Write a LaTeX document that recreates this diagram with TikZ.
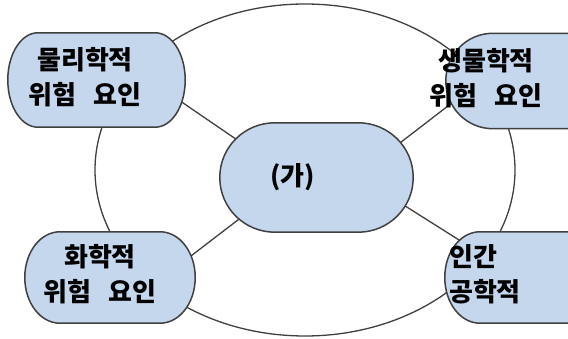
\documentclass[tikz,border=0pt]{standalone}
\usepackage{fontspec}
\newfontfamily\kr{Noto Sans CJK KR}
\usetikzlibrary{calc,backgrounds}
\definecolor{blobfill}{RGB}{197,215,237}
\definecolor{inkline}{RGB}{64,64,64}
\newcommand\offtext[3]{\raisebox{#2}{\makebox[0pt]{\hspace*{#1}#3\hspace*{-#1}}}}
\newcommand\blobpath[3]{%
  \path[blobshape] ([xshift=#2]#1.north west) -- ([xshift=-#2]#1.north east)
    arc[start angle=90,end angle=0,x radius=#2,y radius=#3]
    -- ([yshift=#3]#1.south east)
    arc[start angle=0,end angle=-90,x radius=#2,y radius=#3]
    -- ([xshift=#2]#1.south west)
    arc[start angle=270,end angle=180,x radius=#2,y radius=#3]
    -- ([yshift=-#3]#1.north west)
    arc[start angle=180,end angle=90,x radius=#2,y radius=#3]
    -- cycle;}
\begin{document}
\begin{tikzpicture}[x=1pt,y=1pt,
  blobtext/.style={inner sep=0pt, text=black, font={\kr\bfseries\fontsize{26pt}{35pt}\selectfont}},
  blobshape/.style={fill=blobfill, draw=inkline, line width=1.5pt},
  wire/.style={draw=inkline, line width=1.3pt},
  ring/.style={draw=inkline, line width=1.3pt}]
\useasboundingbox (0,0) rectangle (568,339);
\node[blobtext, minimum width=193pt, minimum height=109pt] (ga) at (316.5,161.5)
  {\offtext{-24pt}{-4.5pt}{(가)}};
\node[blobtext, minimum width=177pt, minimum height=94pt] (tl) at (96.5,259)
  {\offtext{-11.5pt}{-3.5pt}{\begin{tabular}{@{}c@{}}물리학적\\위험 \kern.45em요인\end{tabular}}};
\node[blobtext, minimum width=194pt, minimum height=95pt] (tr) at (543,258)
  {\offtext{-57pt}{-1pt}{\begin{tabular}{@{}c@{}}생물학적\\위험 \kern.45em요인\end{tabular}}};
\node[blobtext, minimum width=170pt, minimum height=91pt] (bl) at (110,61.5)
  {\offtext{-10pt}{-0.5pt}{\begin{tabular}{@{}c@{}}화학적\\위험 \kern.45em요인\end{tabular}}};
\node[blobtext, minimum width=194pt, minimum height=91pt] (br) at (542,61.5)
  {\offtext{-57pt}{0pt}{\begin{tabular}{@{}l@{}}인간\\공학적\end{tabular}}};
\begin{scope}[on background layer]
  \fill[white] (0,0) rectangle (568,339);
  \draw[ring] (305,169) ellipse [x radius=210pt, y radius=166pt];
  \draw[wire] ($(ga)+(-70.5,31.5)$) -- ($(tl)+(81.5,-19.5)$);
  \draw[wire] ($(ga)+(79.5,31.5)$) -- ($(tr)+(-86,-18)$);
  \draw[wire] ($(ga)+(-69.5,-35.5)$) -- ($(bl)+(77,18.5)$);
  \draw[wire] ($(ga)+(85.5,-26.5)$) -- ($(br)+(-75,32.5)$);
  \blobpath{ga}{55pt}{54.5pt}
  \blobpath{tl}{30pt}{47pt}
  \blobpath{tr}{47pt}{47.5pt}
  \blobpath{bl}{35pt}{45.5pt}
  \blobpath{br}{35pt}{45.5pt}
\end{scope}
\end{tikzpicture}
\end{document}
